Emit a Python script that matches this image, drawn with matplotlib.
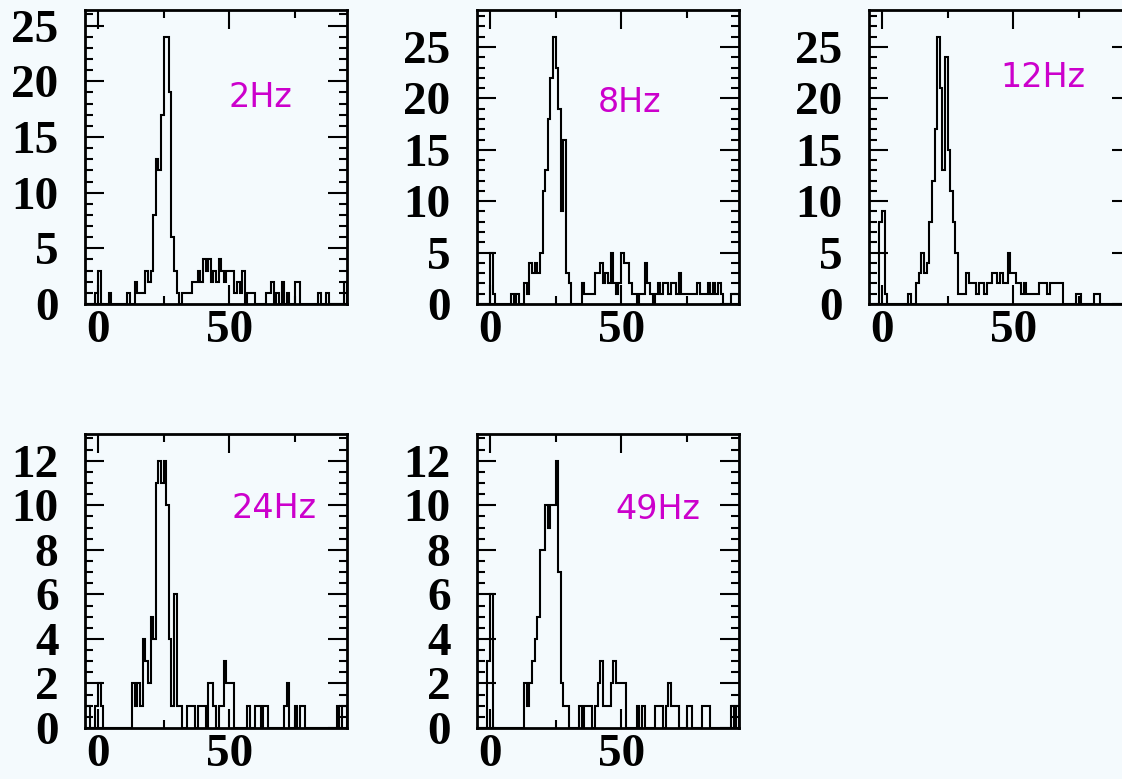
import numpy as np
import matplotlib.pyplot as plt
from matplotlib.ticker import MultipleLocator, FixedLocator

# bin edges: 100 bins of width 1 from -5 to 95
edges = np.arange(-5, 96, 1)

counts_2hz = [
    0, 0, 0, 0, 1,   3, 0, 0, 0, 1,   0, 0, 0, 0, 0,   0, 1, 0, 0, 2,
    1, 1, 1, 3, 2,   3, 8, 13, 12, 17, 24, 24, 19, 6, 3,   1, 0, 1, 1, 1,
    1, 2, 2, 3, 2,   4, 3, 4, 2, 3,   2, 4, 3, 2, 3,   3, 3, 1, 2, 1,
    3, 0, 1, 1, 1,   0, 0, 0, 0, 1,   1, 2, 0, 1, 0,   2, 0, 1, 0, 0,
    2, 2, 0, 0, 0,   0, 0, 0, 0, 1,   0, 0, 1, 0, 0,   0, 0, 0, 0, 2,
]
counts_8hz = [
    0, 0, 0, 0, 0,   5, 1, 0, 0, 0,   0, 0, 0, 1, 0,   1, 0, 0, 2, 1,
    4, 3, 4, 3, 5,   11, 13, 18, 22, 26,   23, 19, 9, 16, 3,   2, 0, 0, 0, 0,
    2, 1, 1, 1, 1,   3, 3, 4, 2, 3,   2, 5, 2, 1, 2,   5, 4, 4, 2, 1,
    1, 0, 1, 1, 4,   2, 1, 0, 1, 2,   1, 2, 2, 1, 2,   2, 1, 3, 1, 1,
    1, 1, 1, 1, 2,   1, 1, 1, 2, 1,   2, 1, 2, 1, 0,   0, 0, 1, 1, 1,
]
counts_12hz = [
    0, 0, 0, 0, 8,   9, 1, 0, 0, 0,   0, 0, 0, 0, 0,   1, 0, 0, 2, 3,
    5, 3, 4, 8, 12,   17, 26, 21, 13, 24,   15, 11, 8, 5, 1,   1, 1, 3, 2, 2,
    2, 1, 2, 2, 1,   2, 2, 3, 3, 2,   3, 2, 2, 5, 3,   3, 2, 2, 1, 2,
    1, 1, 1, 1, 1,   2, 2, 2, 1, 2,   2, 2, 2, 2, 0,   0, 0, 0, 0, 1,
    1, 0, 0, 0, 0,   0, 1, 1, 0, 0,   0, 0, 0, 0, 0,   0, 0, 0, 0, 0,
]
counts_24hz = [
    1, 1, 0, 0, 1,   2, 1, 0, 0, 0,   0, 0, 0, 0, 0,   0, 0, 0, 2, 1,
    2, 1, 4, 3, 2,   5, 4, 11, 12, 11,   12, 10, 4, 1, 6,   1, 1, 0, 0, 1,
    1, 1, 0, 1, 1,   1, 0, 2, 2, 1,   0, 1, 1, 3, 2,   2, 2, 0, 0, 0,
    0, 0, 1, 0, 0,   1, 1, 0, 1, 1,   0, 0, 0, 0, 0,   0, 1, 2, 0, 0,
    1, 0, 1, 1, 0,   0, 0, 0, 0, 0,   0, 0, 0, 0, 0,   0, 1, 0, 1, 1,
]
counts_49hz = [
    0, 0, 0, 0, 3,   6, 0, 0, 0, 0,   0, 0, 0, 0, 0,   0, 0, 0, 2, 1,
    2, 3, 4, 5, 8,   8, 10, 9, 10, 10,   12, 7, 2, 1, 1,   0, 0, 0, 0, 1,
    0, 1, 1, 1, 0,   1, 2, 3, 1, 1,   1, 2, 3, 2, 2,   2, 2, 0, 0, 0,
    0, 1, 0, 1, 0,   0, 0, 0, 1, 1,   1, 0, 1, 2, 1,   1, 1, 0, 0, 0,
    1, 1, 0, 0, 0,   0, 1, 1, 1, 0,   0, 0, 0, 0, 0,   0, 0, 1, 0, 1,
]

labels = ['2Hz', '8Hz', '12Hz', '24Hz', '49Hz']
all_counts = [counts_2hz, counts_8hz, counts_12hz, counts_24hz, counts_49hz]

bg = '#f4fafd'
W, H = 1122, 779
fig = plt.figure(figsize=(W / 100, H / 100), dpi=100, facecolor=bg)

# pad corners in pixels (left, top), each pad is 262 x 294
corners = [(85, 10), (477, 10), (869, 10), (85, 434), (477, 434)]
text_pos = [(0.546, 0.670), (0.462, 0.653), (0.500, 0.738), (0.561, 0.714), (0.527, 0.711)]
pw, ph = 262, 294

tick_font = dict(family='Liberation Serif', weight='bold', size=34)

for i, (lab, cnt) in enumerate(zip(labels, all_counts)):
    x0, y0 = corners[i]
    ax = fig.add_axes([x0 / W, (H - y0 - ph) / H, pw / W, ph / H])
    ax.set_facecolor(bg)
    cnt = np.array(cnt)
    ax.stairs(cnt, edges, color='k', lw=1.5, baseline=0)
    ax.set_xlim(-5, 95)
    ax.set_ylim(0, 1.1 * cnt.max())

    ax.xaxis.set_major_locator(FixedLocator([0, 50]))
    ax.xaxis.set_minor_locator(FixedLocator([25, 75]))
    if cnt.max() > 15:
        ax.yaxis.set_major_locator(MultipleLocator(5))
        ax.yaxis.set_minor_locator(MultipleLocator(1))
    else:
        ax.yaxis.set_major_locator(MultipleLocator(2))
        ax.yaxis.set_minor_locator(MultipleLocator(0.5))

    ax.tick_params(which='both', direction='in', top=True, right=True, width=1.5)
    ax.tick_params(which='major', length=14)
    ax.tick_params(which='minor', length=6)
    ax.tick_params(axis='x', pad=4)
    ax.tick_params(axis='y', pad=19)
    for t in ax.get_xticklabels() + ax.get_yticklabels():
        t.set_fontproperties(tick_font)
        t.set_fontsize(34)
    for s in ax.spines.values():
        s.set_linewidth(2)

    tx, ty = text_pos[i]
    ax.text(tx, ty, lab, transform=ax.transAxes, color='#cc00cc',
            fontsize=24, family='DejaVu Sans', va='baseline', ha='left')

fig.savefig('out.png', dpi=100, facecolor=bg)
